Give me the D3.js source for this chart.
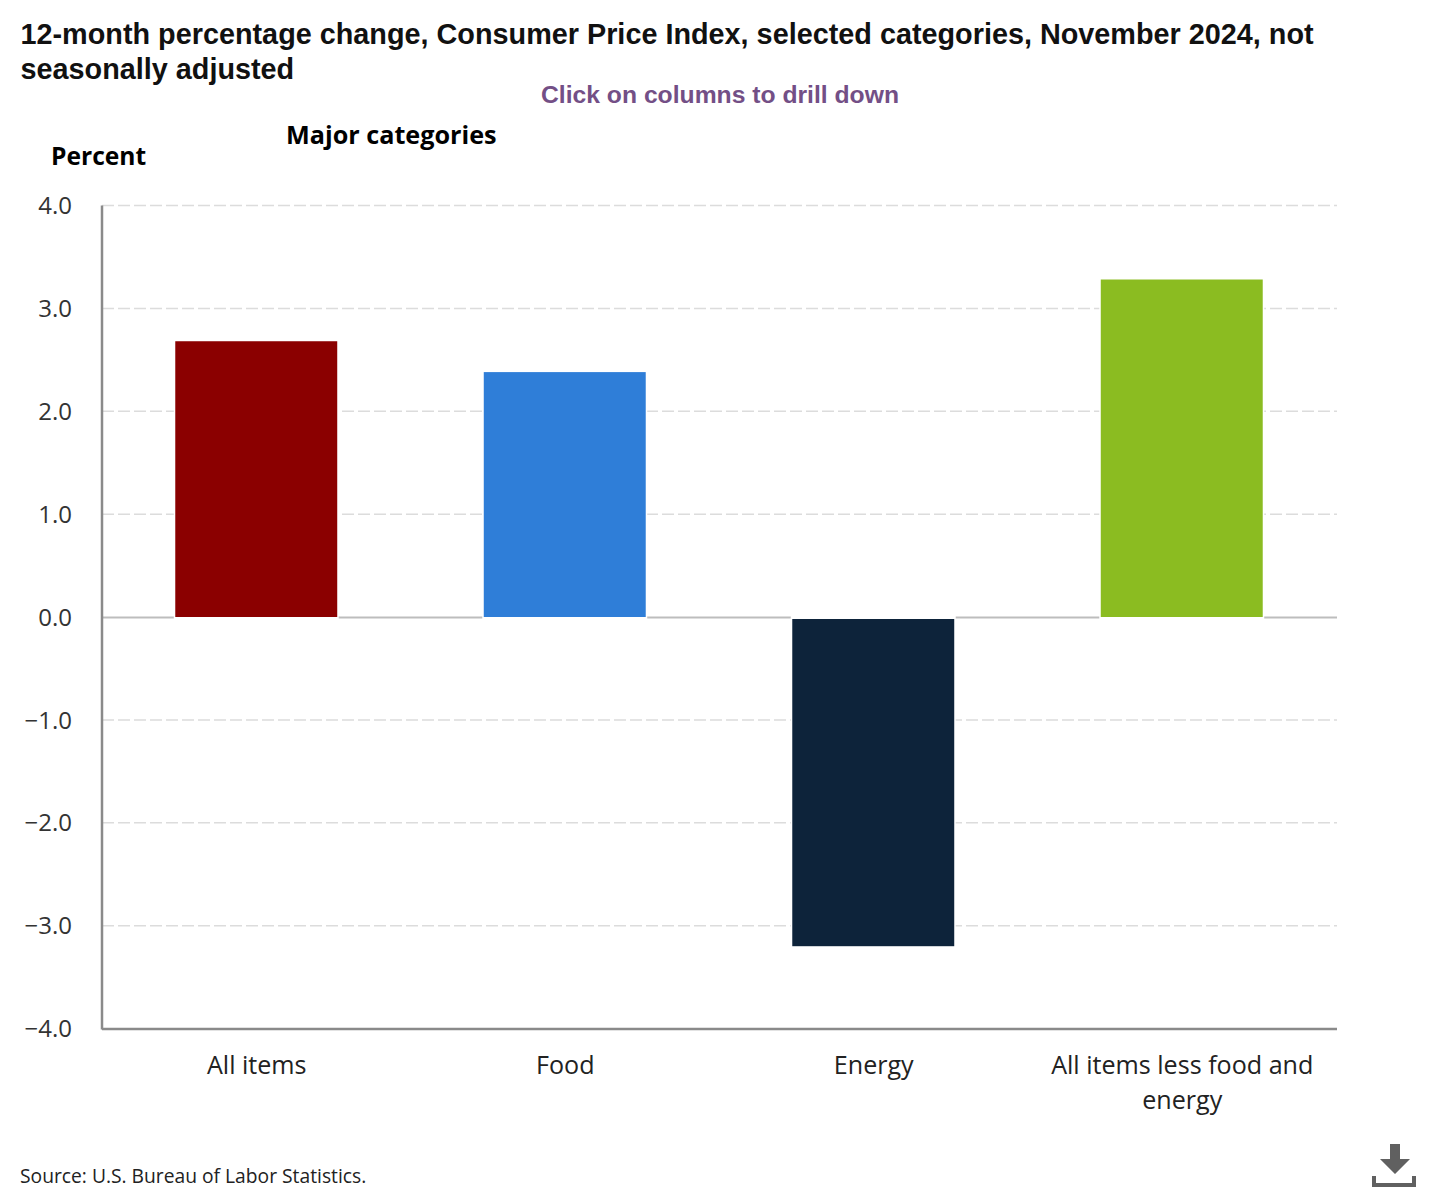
<!DOCTYPE html>
<html><head><meta charset="utf-8">
<script src="https://cdn.jsdelivr.net/npm/d3@7"></script>
<style>html,body{margin:0;padding:0;background:#fff}svg{display:block}</style>
</head><body><svg id="c" width="1440" height="1193"></svg>
<script>
const categories = ["All items","Food","Energy","All items less food and energy"];
const values = [2.7,2.4,-3.2,3.3];
const colors = ["#8b0000","#2f7ed8","#0d233a","#8bbc21"];
const tickValues = [-4,-3,-2,-1,0,1,2,3,4];
const titleLines = ["12-month percentage change, Consumer Price Index, selected categories, November 2024, not","seasonally adjusted"];

const svg = d3.select("#c");
const plotLeft=102, plotRight=1337, plotTop=205.5, plotBottom=1028.5;
const x = d3.scaleBand().domain(categories).range([plotLeft,plotRight-1]).paddingInner(0.475).paddingOuter(0.2375);
const y = d3.scaleLinear().domain([-4,4]).range([plotBottom,plotTop]);
const label = "'Open Sans','Noto Sans',sans-serif";

// title
svg.append("g").selectAll("text").data(titleLines).join("text")
  .attr("x",20.5).attr("y",(d,i)=>43.5+i*35)
  .attr("font-family","'Liberation Sans',Arial,sans-serif").attr("font-weight",700).attr("font-size",28.8).attr("fill","#111").text(d=>d);
svg.append("text").attr("x",720).attr("y",103).attr("text-anchor","middle")
  .attr("font-family","'Liberation Sans',Arial,sans-serif").attr("font-weight",700).attr("font-size",24.7).attr("fill","#734f86").text("Click on columns to drill down");
svg.append("text").attr("x",286).attr("y",143.5)
  .attr("font-family",label).attr("font-weight",700).attr("font-size",25.2).attr("fill","#000").text("Major categories");
svg.append("text").attr("x",51).attr("y",164.5)
  .attr("font-family",label).attr("font-weight",700).attr("font-size",24.6).attr("fill","#000").text("Percent");

// grid
const yAxis = d3.axisLeft(y).tickValues(tickValues).tickSize(0).tickPadding(0)
  .tickFormat(d=>(d<0?"\u2212":"")+d3.format(".1f")(Math.abs(d)));
const gy = svg.append("g").attr("transform",`translate(72,0)`).call(yAxis);
gy.select(".domain").remove();
gy.selectAll("text").attr("font-family",label).attr("font-size",24).attr("fill","#333").attr("dy","0.34em");
svg.append("g").selectAll("line").data(tickValues.filter(d=>d!==-4&&d!==0)).join("line")
  .attr("x1",plotLeft).attr("x2",plotRight).attr("y1",d=>y(d)).attr("y2",d=>y(d))
  .attr("stroke","#dcdcdc").attr("stroke-width",1.5).attr("stroke-dasharray","12,4");
svg.append("line").attr("x1",plotLeft).attr("x2",plotRight).attr("y1",y(0)+.5).attr("y2",y(0)+.5).attr("stroke","#bdbdbd").attr("stroke-width",2);

// bars
const bars = svg.append("g").selectAll("g").data(categories.map((c,i)=>({c,v:values[i],col:colors[i]}))).join("g");
bars.append("rect").attr("x",d=>x(d.c)-1.5).attr("width",x.bandwidth()+3)
  .attr("y",d=>y(Math.max(d.v,0))-1).attr("height",d=>Math.abs(y(d.v)-y(0))+3).attr("fill","#fff");
bars.append("rect").attr("x",d=>x(d.c)).attr("width",x.bandwidth())
  .attr("y",d=>y(Math.max(d.v,0))+2).attr("height",d=>Math.abs(y(d.v)-y(0))-2).attr("fill",d=>d.col);

// axis lines
svg.append("line").attr("x1",plotLeft).attr("x2",plotLeft).attr("y1",plotTop).attr("y2",plotBottom+1).attr("stroke","#8a8a8a").attr("stroke-width",2.5);
svg.append("line").attr("x1",plotLeft).attr("x2",plotRight).attr("y1",plotBottom+.5).attr("y2",plotBottom+.5).attr("stroke","#8a8a8a").attr("stroke-width",2.5);

// category labels
const catLines = {"All items less food and energy":["All items less food and","energy"]};
const gx = svg.append("g").selectAll("text").data(categories).join("text")
  .attr("text-anchor","middle").attr("font-family",label).attr("font-size",25.1).attr("fill","#222");
gx.each(function(c){
  const cx = x(c)+x.bandwidth()/2+.5;
  d3.select(this).selectAll("tspan").data(catLines[c]||[c]).join("tspan")
    .attr("x",cx).attr("y",(d,i)=>1073.5+i*35).text(d=>d);
});

svg.append("text").attr("x",20).attr("y",1182.5).attr("font-family",label).attr("font-size",19.25).attr("fill","#222").text("Source: U.S. Bureau of Labor Statistics.");

// download icon
const ic = svg.append("g").attr("fill","#606060");
ic.append("path").attr("d","M1390 1144h10v15h10l-15 15l-15-15h10z");
ic.append("path").attr("d","M1372 1176h4v7h36v-7h4v11h-44z");
</script></body></html>
